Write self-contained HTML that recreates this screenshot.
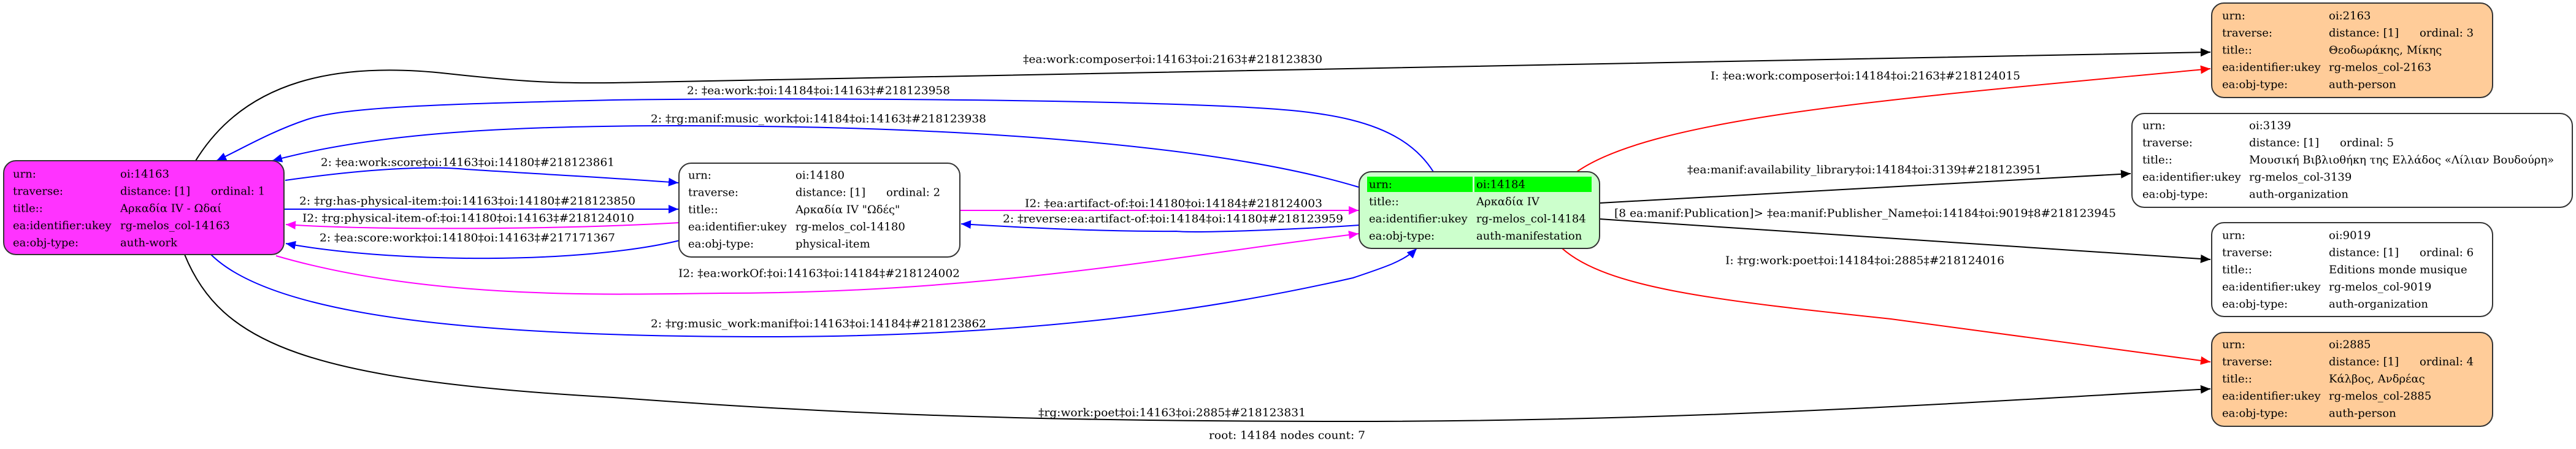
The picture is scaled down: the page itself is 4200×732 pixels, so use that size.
<!DOCTYPE html>
<html><head><meta charset="utf-8"><style>
html,body{margin:0;padding:0;background:#fff;}
svg{display:block;}
text{font-family:"DejaVu Serif","Liberation Serif",serif;font-size:18px;fill:#000;}
</style></head><body>
<svg width="4200" height="732" viewBox="0 0 4200 732" xmlns="http://www.w3.org/2000/svg">
<defs>
<marker id="ak" markerUnits="userSpaceOnUse" markerWidth="18" markerHeight="14" refX="16" refY="7" orient="auto"><path d="M0,0 L16,7 L0,14 z" fill="#000"/></marker>
<marker id="ab" markerUnits="userSpaceOnUse" markerWidth="18" markerHeight="14" refX="16" refY="7" orient="auto"><path d="M0,0 L16,7 L0,14 z" fill="#0000ff"/></marker>
<marker id="am" markerUnits="userSpaceOnUse" markerWidth="18" markerHeight="14" refX="16" refY="7" orient="auto"><path d="M0,0 L16,7 L0,14 z" fill="#ff00ff"/></marker>
<marker id="ar" markerUnits="userSpaceOnUse" markerWidth="18" markerHeight="14" refX="16" refY="7" orient="auto"><path d="M0,0 L16,7 L0,14 z" fill="#ff0000"/></marker>
</defs>
<g fill="none" stroke-width="2">
<path d="M319,262 C400,130 550,100 730,120 C850,133 900,136 1000,135 L3604,85" stroke="#000" marker-end="url(#ak)"/>
<path d="M2337,280 C2280,190 2150,180 1995,173 C1700,160 1200,160 1000,163 C700,170 560,175 500,195 C440,215 390,245 353,262" stroke="#0000ff" marker-end="url(#ab)"/>
<path d="M2215,305 C2000,240 1600,205 1100,205 C800,205 600,220 444,262" stroke="#0000ff" marker-end="url(#ab)"/>
<path d="M465,294 C600,275 700,270 760,276 C900,285 1000,290 1106,298" stroke="#0000ff" marker-end="url(#ab)"/>
<path d="M464,341 L1106,341" stroke="#0000ff" marker-end="url(#ab)"/>
<path d="M1108,363 C900,375 600,375 466,366" stroke="#ff00ff" marker-end="url(#am)"/>
<path d="M1108,392 C950,430 650,430 466,397" stroke="#0000ff" marker-end="url(#ab)"/>
<path d="M450,417 C700,490 1000,480 1176,478 C1600,478 1900,420 2215,381" stroke="#ff00ff" marker-end="url(#am)"/>
<path d="M344,415 C450,520 800,548 1230,549 C1700,550 2000,500 2206,453 C2260,435 2290,425 2310,405" stroke="#0000ff" marker-end="url(#ab)"/>
<path d="M301,415 C360,560 500,620 1000,648 C1300,670 1600,687 2200,687 C2800,687 3300,650 3604,634" stroke="#000" marker-end="url(#ak)"/>
<path d="M1565,343 L2215,343" stroke="#ff00ff" marker-end="url(#am)"/>
<path d="M2217,367 C2100,375 1950,380 1918,377 C1800,378 1650,370 1567,365" stroke="#0000ff" marker-end="url(#ab)"/>
<path d="M2571,280 C2700,190 3100,160 3604,112" stroke="#ff0000" marker-end="url(#ar)"/>
<path d="M2608,331 L3474,283" stroke="#000" marker-end="url(#ak)"/>
<path d="M2608,357 L3604,423" stroke="#000" marker-end="url(#ak)"/>
<path d="M2547,405 C2620,470 2800,490 3083,520 L3604,590" stroke="#ff0000" marker-end="url(#ar)"/>
</g>
<g dominant-baseline="central" lengthAdjust="spacingAndGlyphs">
<text x="1668" y="97" textLength="488" lengthAdjust="spacingAndGlyphs">‡ea:work:composer‡oi:14163‡oi:2163‡#218123830</text>
<text x="1120" y="148" textLength="429" lengthAdjust="spacingAndGlyphs">2: ‡ea:work:‡oi:14184‡oi:14163‡#218123958</text>
<text x="1061" y="194" textLength="547" lengthAdjust="spacingAndGlyphs">2: ‡rg:manif:music_work‡oi:14184‡oi:14163‡#218123938</text>
<text x="523" y="265" textLength="479" lengthAdjust="spacingAndGlyphs">2: ‡ea:work:score‡oi:14163‡oi:14180‡#218123861</text>
<text x="488" y="328" textLength="548" lengthAdjust="spacingAndGlyphs">2: ‡rg:has-physical-item:‡oi:14163‡oi:14180‡#218123850</text>
<text x="493" y="356" textLength="541" lengthAdjust="spacingAndGlyphs">I2: ‡rg:physical-item-of:‡oi:14180‡oi:14163‡#218124010</text>
<text x="521" y="388" textLength="482" lengthAdjust="spacingAndGlyphs">2: ‡ea:score:work‡oi:14180‡oi:14163‡#217171367</text>
<text x="1106" y="446" textLength="459" lengthAdjust="spacingAndGlyphs">I2: ‡ea:workOf:‡oi:14163‡oi:14184‡#218124002</text>
<text x="1061" y="528" textLength="547" lengthAdjust="spacingAndGlyphs">2: ‡rg:music_work:manif‡oi:14163‡oi:14184‡#218123862</text>
<text x="1693" y="673" textLength="436" lengthAdjust="spacingAndGlyphs">‡rg:work:poet‡oi:14163‡oi:2885‡#218123831</text>
<text x="1971" y="710" textLength="255" lengthAdjust="spacingAndGlyphs">root: 14184 nodes count: 7</text>
<text x="1671" y="332" textLength="485" lengthAdjust="spacingAndGlyphs">I2: ‡ea:artifact-of:‡oi:14180‡oi:14184‡#218124003</text>
<text x="1635" y="357" textLength="555" lengthAdjust="spacingAndGlyphs">2: ‡reverse:ea:artifact-of:‡oi:14184‡oi:14180‡#218123959</text>
<text x="2789" y="124" textLength="505" lengthAdjust="spacingAndGlyphs">I: ‡ea:work:composer‡oi:14184‡oi:2163‡#218124015</text>
<text x="2751" y="277" textLength="578" lengthAdjust="spacingAndGlyphs">‡ea:manif:availability_library‡oi:14184‡oi:3139‡#218123951</text>
<text x="2632" y="348" textLength="818" lengthAdjust="spacingAndGlyphs">[8 ea:manif:Publication]&gt; ‡ea:manif:Publisher_Name‡oi:14184‡oi:9019‡8#218123945</text>
<text x="2813" y="425" textLength="455" lengthAdjust="spacingAndGlyphs">I: ‡rg:work:poet‡oi:14184‡oi:2885‡#218124016</text>
</g>
<!-- nodes -->
<g stroke="#333" stroke-width="2">
<rect x="6" y="262" width="457" height="153" rx="20" fill="#ff33ff"/>
<rect x="1107" y="266" width="458" height="153" rx="20" fill="#fff"/>
<rect x="2216" y="280" width="392" height="125" rx="20" fill="#ccffcc"/>
<rect x="3606" y="5" width="458" height="154" rx="20" fill="#ffcc99"/>
<rect x="3476" y="185" width="718" height="153" rx="20" fill="#fff"/>
<rect x="3606" y="363" width="458" height="153" rx="20" fill="#fff"/>
<rect x="3606" y="542" width="458" height="153" rx="20" fill="#ffcc99"/>
</g>
<rect x="2229" y="288" width="172" height="25" fill="#00ff00"/>
<rect x="2404" y="288" width="191" height="25" fill="#00ff00"/>
<g dominant-baseline="central">
<text x="21" y="284">urn:</text><text x="196" y="284">oi:14163</text>
<text x="21" y="312">traverse:</text><text x="196" y="312">distance: [1]</text><text x="344" y="312">ordinal: 1</text>
<text x="21" y="340">title::</text><text x="196" y="340">Αρκαδία IV - Ωδαί</text>
<text x="21" y="368">ea:identifier:ukey</text><text x="196" y="368">rg-melos_col-14163</text>
<text x="21" y="396">ea:obj-type:</text><text x="196" y="396">auth-work</text>

<text x="1122" y="286">urn:</text><text x="1297" y="286">oi:14180</text>
<text x="1122" y="314">traverse:</text><text x="1297" y="314">distance: [1]</text><text x="1445" y="314">ordinal: 2</text>
<text x="1122" y="342">title::</text><text x="1297" y="342">Αρκαδία IV "Ωδές"</text>
<text x="1122" y="370">ea:identifier:ukey</text><text x="1297" y="370">rg-melos_col-14180</text>
<text x="1122" y="398">ea:obj-type:</text><text x="1297" y="398">physical-item</text>

<text x="2232" y="301">urn:</text><text x="2407" y="301">oi:14184</text>
<text x="2232" y="329">title::</text><text x="2407" y="329">Αρκαδία IV</text>
<text x="2232" y="357">ea:identifier:ukey</text><text x="2407" y="357">rg-melos_col-14184</text>
<text x="2232" y="385">ea:obj-type:</text><text x="2407" y="385">auth-manifestation</text>

<text x="3623" y="26">urn:</text><text x="3797" y="26">oi:2163</text>
<text x="3623" y="54">traverse:</text><text x="3797" y="54">distance: [1]</text><text x="3945" y="54">ordinal: 3</text>
<text x="3623" y="82">title::</text><text x="3797" y="82">Θεοδωράκης, Μίκης</text>
<text x="3623" y="110">ea:identifier:ukey</text><text x="3797" y="110">rg-melos_col-2163</text>
<text x="3623" y="138">ea:obj-type:</text><text x="3797" y="138">auth-person</text>

<text x="3493" y="205">urn:</text><text x="3667" y="205">oi:3139</text>
<text x="3493" y="233">traverse:</text><text x="3667" y="233">distance: [1]</text><text x="3815" y="233">ordinal: 5</text>
<text x="3493" y="261">title::</text><text x="3667" y="261">Μουσική Βιβλιοθήκη της Ελλάδος «Λίλιαν Βουδούρη»</text>
<text x="3493" y="289">ea:identifier:ukey</text><text x="3667" y="289">rg-melos_col-3139</text>
<text x="3493" y="317">ea:obj-type:</text><text x="3667" y="317">auth-organization</text>

<text x="3623" y="384">urn:</text><text x="3797" y="384">oi:9019</text>
<text x="3623" y="412">traverse:</text><text x="3797" y="412">distance: [1]</text><text x="3945" y="412">ordinal: 6</text>
<text x="3623" y="440">title::</text><text x="3797" y="440">Editions monde musique</text>
<text x="3623" y="468">ea:identifier:ukey</text><text x="3797" y="468">rg-melos_col-9019</text>
<text x="3623" y="496">ea:obj-type:</text><text x="3797" y="496">auth-organization</text>

<text x="3623" y="562">urn:</text><text x="3797" y="562">oi:2885</text>
<text x="3623" y="590">traverse:</text><text x="3797" y="590">distance: [1]</text><text x="3945" y="590">ordinal: 4</text>
<text x="3623" y="618">title::</text><text x="3797" y="618">Κάλβος, Ανδρέας</text>
<text x="3623" y="646">ea:identifier:ukey</text><text x="3797" y="646">rg-melos_col-2885</text>
<text x="3623" y="674">ea:obj-type:</text><text x="3797" y="674">auth-person</text>
</g>
</svg>
</body></html>
